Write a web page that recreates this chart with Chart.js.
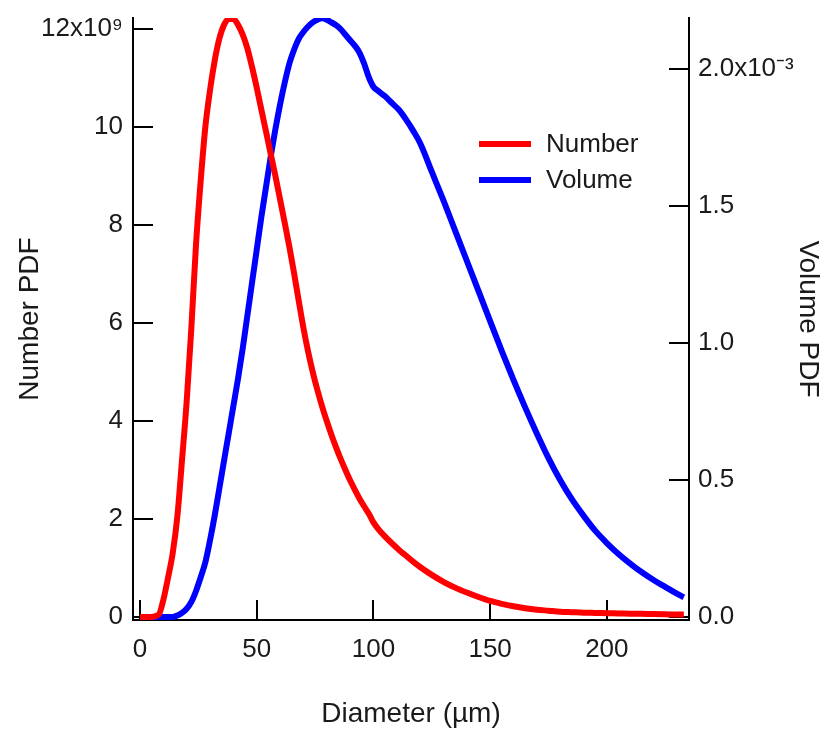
<!DOCTYPE html>
<html>
<head>
<meta charset="utf-8">
<script src="https://cdn.jsdelivr.net/npm/chart.js@4"></script>
<style>
html, body { margin: 0; padding: 0; background: #fff; }
</style>
</head>
<body>
<canvas id="graph" width="828" height="731"></canvas>
<script>
// diameter in µm, number pdf in 1e9, volume pdf in 1e-3
const diameter = [0, 4, 8, 10, 12, 14, 16, 18, 20, 22, 24, 26, 28, 30, 32, 34, 36, 38, 40, 42, 44, 46, 48, 50, 52, 54, 56, 58, 60, 62, 64, 66, 68, 70, 72, 74, 76, 78, 80, 82, 84, 86, 88, 90, 92, 94, 96, 98, 100, 102, 105, 108, 111, 114, 117, 120, 125, 130, 135, 140, 145, 150, 155, 160, 165, 170, 175, 180, 185, 190, 195, 200, 205, 210, 215, 220, 225, 230, 233];
const numberPdf = [0, 0, 0.05, 0.35, 0.8, 1.3, 2.05, 3.2, 4.4, 5.9, 7.6, 8.9, 10.0, 10.75, 11.35, 11.8, 12.08, 12.2, 12.2, 12.08, 11.88, 11.6, 11.22, 10.8, 10.35, 9.9, 9.45, 9.0, 8.52, 8.04, 7.55, 7.02, 6.45, 5.9, 5.42, 5.0, 4.63, 4.3, 4.0, 3.72, 3.46, 3.22, 3.0, 2.79, 2.6, 2.42, 2.26, 2.11, 1.93, 1.8, 1.64, 1.5, 1.37, 1.25, 1.13, 1.02, 0.86, 0.72, 0.6, 0.5, 0.41, 0.33, 0.27, 0.22, 0.18, 0.15, 0.13, 0.11, 0.1, 0.09, 0.085, 0.08, 0.075, 0.07, 0.065, 0.06, 0.055, 0.05, 0.05];
const volumePdf = [0, 0, 0, 0, 0, 0, 0.005, 0.015, 0.03, 0.055, 0.095, 0.145, 0.2, 0.28, 0.37, 0.47, 0.57, 0.67, 0.77, 0.87, 0.98, 1.1, 1.22, 1.34, 1.46, 1.57, 1.68, 1.78, 1.87, 1.95, 2.02, 2.07, 2.11, 2.135, 2.155, 2.17, 2.18, 2.185, 2.18, 2.17, 2.16, 2.145, 2.125, 2.105, 2.085, 2.06, 2.02, 1.97, 1.935, 1.92, 1.9, 1.875, 1.85, 1.815, 1.775, 1.73, 1.625, 1.52, 1.41, 1.30, 1.19, 1.08, 0.97, 0.865, 0.765, 0.67, 0.58, 0.50, 0.43, 0.37, 0.315, 0.27, 0.23, 0.195, 0.163, 0.135, 0.11, 0.085, 0.072];

const seriesNames = ['Number', 'Volume'];
const seriesColors = ['#ff0000', '#0000ff'];

const xTicks = [0, 50, 100, 150, 200];
const numberTicks = [0, 2, 4, 6, 8, 10, 12];
const numberTickLabels = ['0', '2', '4', '6', '8', '10', '12x10⁹'];
const volumeTicks = [0, 0.5, 1.0, 1.5, 2.0];
const volumeTickLabels = ['0.0', '0.5', '1.0', '1.5', '2.0x10⁻³'];

Chart.defaults.font.family = "'Liberation Sans', Arial, sans-serif";
Chart.defaults.color = '#1a1a1a';

function points(ys) {
	return diameter.map((d, i) => ({ x: d, y: ys[i] }));
}

// no extra room for the end labels, the plot box is fixed
function fixSize(w, h) {
	return s => {
		if (w) s.width = w;
		if (h) s.height = h;
		s.paddingTop = 0;
		s.paddingBottom = 0;
		s.paddingLeft = 0;
		s.paddingRight = 0;
	};
}

// tick marks point into the plot
const insideTicks = {
	id: 'insideTicks',
	beforeDatasetsDraw(chart) {
		const ctx = chart.ctx;
		const len = 20;
		const sx = chart.scales.x, yl = chart.scales.yNum, yr = chart.scales.yVol;
		ctx.save();
		ctx.strokeStyle = '#000';
		ctx.lineWidth = 2;
		ctx.beginPath();
		sx.ticks.forEach(t => {
			const p = Math.round(sx.getPixelForValue(t.value));
			ctx.moveTo(p, sx.top);
			ctx.lineTo(p, sx.top - len);
		});
		yl.ticks.forEach(t => {
			const p = Math.round(yl.getPixelForValue(t.value));
			ctx.moveTo(yl.right, p);
			ctx.lineTo(yl.right + len, p);
		});
		yr.ticks.forEach(t => {
			const p = Math.round(yr.getPixelForValue(t.value));
			ctx.moveTo(yr.left, p);
			ctx.lineTo(yr.left - len, p);
		});
		ctx.stroke();
		ctx.restore();
	}
};

const innerLegend = {
	id: 'innerLegend',
	afterDraw(chart) {
		const ctx = chart.ctx;
		ctx.save();
		ctx.font = "26px 'Liberation Sans', Arial, sans-serif";
		ctx.textBaseline = 'middle';
		ctx.fillStyle = '#1a1a1a';
		chart.data.datasets.forEach((ds, i) => {
			const y = 144 + i * 36;
			ctx.strokeStyle = ds.borderColor;
			ctx.lineWidth = 6;
			ctx.beginPath();
			ctx.moveTo(479, y);
			ctx.lineTo(531, y);
			ctx.stroke();
			ctx.fillText(ds.label, 546, y + 1);
		});
		ctx.restore();
	}
};

const chartGraph = new Chart(document.getElementById('graph'), {
	type: 'line',
	data: {
		datasets: [{
			label: seriesNames[0],
			data: points(numberPdf),
			yAxisID: 'yNum',
			borderColor: seriesColors[0],
			borderWidth: 6,
			pointRadius: 0,
			cubicInterpolationMode: 'monotone'
		}, {
			label: seriesNames[1],
			data: points(volumePdf),
			yAxisID: 'yVol',
			borderColor: seriesColors[1],
			borderWidth: 6,
			pointRadius: 0,
			cubicInterpolationMode: 'monotone'
		}]
	},
	options: {
		responsive: false,
		animation: false,
		layout: { padding: { top: 18, left: 0, right: 0, bottom: 0 } },
		plugins: {
			legend: { display: false },
			tooltip: { enabled: false }
		},
		scales: {
			x: {
				type: 'linear',
				min: -3,
				max: 235.2,
				afterBuildTicks: s => { s.ticks = xTicks.map(v => ({ value: v })); },
				afterFit: fixSize(0, 111),
				grid: { drawOnChartArea: false, drawTicks: false },
				border: { display: true, color: '#000', width: 2 },
				ticks: { font: { size: 26 }, padding: 14, maxRotation: 0, callback: v => String(v) },
				title: { display: true, text: 'Diameter (µm)', font: { size: 28 }, padding: { top: 0, bottom: 0 } }
			},
			yNum: {
				type: 'linear',
				position: 'left',
				min: -0.06,
				max: 12.22,
				afterBuildTicks: s => { s.ticks = numberTicks.map(v => ({ value: v })); },
				afterFit: fixSize(133, 0),
				grid: { drawOnChartArea: false, drawTicks: false },
				border: { display: true, color: '#000', width: 2 },
				ticks: { font: { size: 26 }, padding: 10, callback: (v, i) => numberTickLabels[i] },
				title: { display: true, text: 'Number PDF', font: { size: 28 }, padding: { top: 13, bottom: 0 } }
			},
			yVol: {
				type: 'linear',
				position: 'right',
				min: -0.011,
				max: 2.186,
				afterBuildTicks: s => { s.ticks = volumeTicks.map(v => ({ value: v })); },
				afterFit: fixSize(139, 0),
				grid: { drawOnChartArea: false, drawTicks: false },
				border: { display: true, color: '#000', width: 2 },
				ticks: { font: { size: 26 }, padding: 9, callback: (v, i) => volumeTickLabels[i] },
				title: { display: true, text: 'Volume PDF', font: { size: 28 }, padding: { top: 3, bottom: 0 } }
			}
		}
	},
	plugins: [insideTicks, innerLegend]
});
</script>
</body>
</html>
